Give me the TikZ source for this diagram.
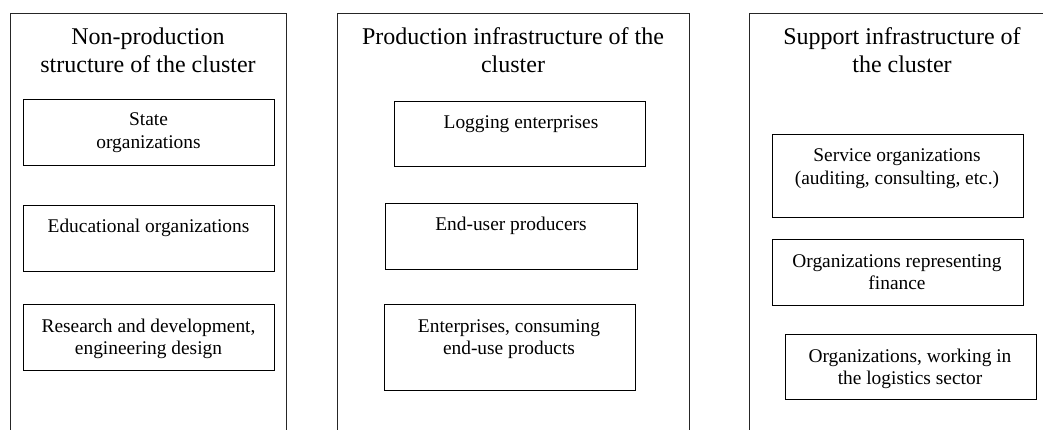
\documentclass[tikz,border=0pt]{standalone}
\usepackage{fontspec}
\setmainfont{Liberation Serif}
\begin{document}
\begin{tikzpicture}[x=1pt,y=-1pt,
  bigbox/.style={draw=black!85,line width=1.1pt,rectangle,anchor=north west,inner sep=0pt},
  itembox/.style={draw=black,line width=1pt,rectangle,anchor=north west,inner sep=0pt},
  titletxt/.style={anchor=base,align=center,inner sep=0pt,font=\fontsize{24}{28}\selectfont},
  itemtxt/.style={anchor=base,align=center,inner sep=0pt,font=\fontsize{19.4}{22.5}\selectfont}]
\clip (0,0) rectangle (1043,430);
% columns
\node[bigbox,minimum width=276pt,minimum height=440pt] (g1) at (10,13) {};
\node[bigbox,minimum width=352pt,minimum height=440pt] (g2) at (337,13) {};
\node[bigbox,minimum width=320pt,minimum height=440pt] (g3) at (749,13) {};
% titles (anchor = baseline of last line)
\node[titletxt] (t1) at (148,73) {Non-production\\structure of the cluster};
\node[titletxt] (t2) at (513,73) {Production infrastructure of the\\cluster};
\node[titletxt] (t3) at (902,73) {Support infrastructure of\\the cluster};
% column 1 boxes
\node[itembox,minimum width=251pt,minimum height=66pt] (a1) at (23,99) {};
\node[itembox,minimum width=251pt,minimum height=66pt] (a2) at (23,205) {};
\node[itembox,minimum width=251pt,minimum height=66pt] (a3) at (23,304) {};
\node[itemtxt] (a1t) at (148.5,148.5) {State\\organizations};
\node[itemtxt] (a2t) at (148.5,233) {Educational organizations};
\node[itemtxt] (a3t) at (148.5,354.5) {Research and development,\\engineering design};
% column 2 boxes
\node[itembox,minimum width=251pt,minimum height=65pt] (b1) at (394,101) {};
\node[itembox,minimum width=252pt,minimum height=66pt] (b2) at (385,203) {};
\node[itembox,minimum width=251pt,minimum height=86pt] (b3) at (384,304) {};
\node[itemtxt] (b1t) at (521,129) {Logging enterprises};
\node[itemtxt] (b2t) at (511,231) {End-user producers};
\node[itemtxt] (b3t) at (509,354.5) {Enterprises, consuming\\end-use products};
% column 3 boxes
\node[itembox,minimum width=251pt,minimum height=83pt] (c1) at (772,134) {};
\node[itembox,minimum width=251pt,minimum height=66pt] (c2) at (772,239) {};
\node[itembox,minimum width=251pt,minimum height=65pt] (c3) at (785,334) {};
\node[itemtxt] (c1t) at (897,184.5) {Service organizations\\(auditing, consulting, etc.)};
\node[itemtxt] (c2t) at (897,289.5) {Organizations representing\\finance};
\node[itemtxt] (c3t) at (910,384.5) {Organizations, working in\\the logistics sector};
\end{tikzpicture}
\end{document}
